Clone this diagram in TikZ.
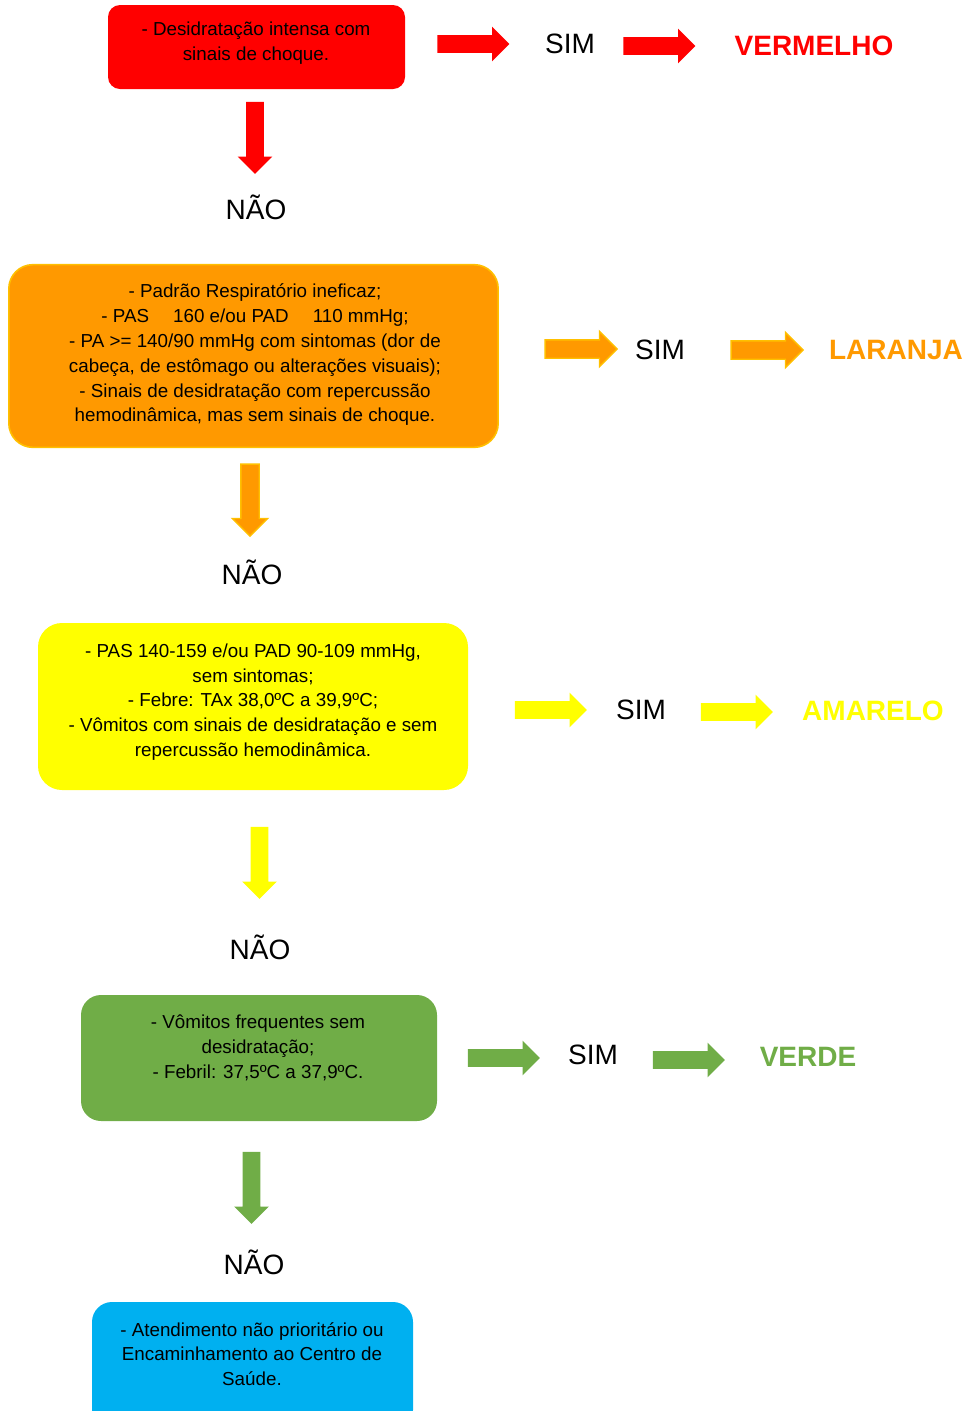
\documentclass[tikz,border=0pt]{standalone}
\usepackage{fontspec}
\setmainfont{Liberation Sans}
\usetikzlibrary{shapes.arrows}

\definecolor{vermelho}{HTML}{FF0000}
\definecolor{laranja}{HTML}{FF9900}
\definecolor{laranjaborda}{HTML}{FFC000}
\definecolor{amarelo}{HTML}{FFFF00}
\definecolor{verde}{HTML}{70AD47}
\definecolor{azul}{HTML}{00B0F0}

\begin{document}
\begin{tikzpicture}[x=0.75pt, y=-0.75pt,
	box/.style={rounded corners=#1, inner sep=0pt},
	txt/.style={align=center, inner sep=0pt, font=\fontsize{14.1}{18.6}\selectfont},
	seta/.style={single arrow, fill=#1, minimum height=54pt, minimum width=25.5pt,
		inner xsep=0pt, inner ysep=6.375pt, single arrow head extend=6.375pt},
	desce/.style={seta=#1, rotate=-90},
	resp/.style={font=\fontsize{21}{25}\selectfont},
	cor/.style={font=\fontsize{21}{25}\selectfont\bfseries, text=#1}]
	\clip (0,0) rectangle (970,1411);
	\useasboundingbox (0,0) rectangle (970,1411);

	% vermelho
	\node[box=9pt, fill=vermelho, minimum width=222.75pt, minimum height=63pt] (c1) at (256.5,47) {};
	\node[txt] (t1) at (256,43) {- Desidratação intensa com\\sinais de choque.};
	\node[seta=vermelho] (s1a) at (469,44) {};
	\node[resp] (sim1) at (570,44) {SIM};
	\node[seta=vermelho] (s1b) at (655,46) {};
	\node[cor=vermelho] (r1) at (814,46) {VERMELHO};
	\node[desce=vermelho] (d1) at (255,133.5) {};
	\node[resp] (nao1) at (256,207) {NÃO};

	% laranja
	\node[box=18pt, fill=laranja, draw=laranjaborda, line width=1.2pt, minimum width=367pt, minimum height=137pt] (c2) at (253.5,356) {};
	\node[txt] (t2) at (255,355) {- Padrão Respiratório ineficaz;\\- PAS\quad\ 160 e/ou PAD\quad\ 110 mmHg;\\- PA >= 140/90 mmHg com sintomas (dor de\\cabeça, de estômago ou alterações visuais);\\- Sinais de desidratação com repercussão\\hemodinâmica, mas sem sinais de choque.};
	\node[seta=laranja, draw=laranjaborda, line width=1pt] (s2a) at (576.5,349) {};
	\node[resp] (sim2) at (660,350) {SIM};
	\node[seta=laranja, draw=laranjaborda, line width=1pt] (s2b) at (762.5,350) {};
	\node[cor=laranja] (r2) at (896,350) {LARANJA};
	\node[desce=laranja, draw=laranjaborda, line width=1pt] (d2) at (250,495.5) {};
	\node[resp] (nao2) at (252,572) {NÃO};

	% amarelo
	\node[box=18pt, fill=amarelo, minimum width=322.5pt, minimum height=125.25pt] (c3) at (253,706.5) {};
	\node[txt] (t3) at (253,702) {- PAS 140-159 e/ou PAD 90-109 mmHg,\\sem sintomas;\\- Febre: TAx 38,0ºC a 39,9ºC;\\- Vômitos com sinais de desidratação e sem\\repercussão hemodinâmica.};
	\node[seta=amarelo] (s3a) at (546.5,710) {};
	\node[resp] (sim3) at (641,710) {SIM};
	\node[seta=amarelo] (s3b) at (732.5,712) {};
	\node[cor=amarelo] (r3) at (873,711) {AMARELO};
	\node[desce=amarelo] (d3) at (259.5,858.5) {};
	\node[resp] (nao3) at (260,947) {NÃO};

	% verde
	\node[box=15pt, fill=verde, minimum width=267pt, minimum height=94.5pt] (c4) at (259,1058) {};
	\node[txt] (t4) at (258,1048) {- Vômitos frequentes sem\\desidratação;\\- Febril: 37,5ºC a 37,9ºC.};
	\node[seta=verde] (s4a) at (499.5,1058) {};
	\node[resp] (sim4) at (593,1055) {SIM};
	\node[seta=verde] (s4b) at (684.5,1060) {};
	\node[cor=verde] (r4) at (808,1057) {VERDE};
	\node[desce=verde] (d4) at (251.5,1183.5) {};
	\node[resp] (nao4) at (254,1262) {NÃO};

	% azul
	\node[box=15pt, fill=azul, minimum width=240.75pt, minimum height=96pt] (c5) at (252.5,1366) {};
	\node[txt] (t5) at (252,1354) {- Atendimento não prioritário ou\\Encaminhamento ao Centro de\\Saúde.};
\end{tikzpicture}
\end{document}
